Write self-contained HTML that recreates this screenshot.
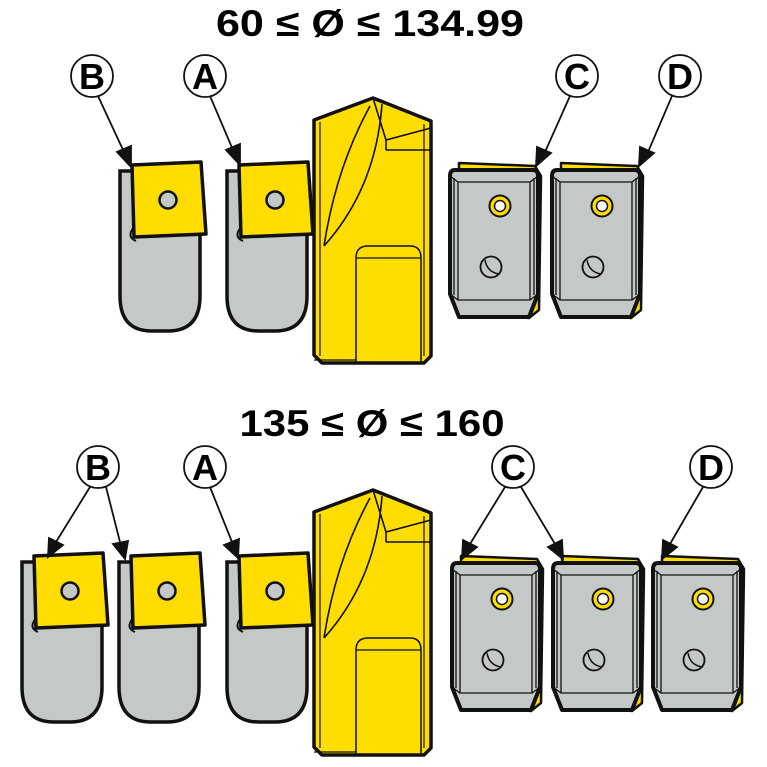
<!DOCTYPE html>
<html><head><meta charset="utf-8"><style>
html,body{margin:0;padding:0;background:#fff;width:767px;height:767px;overflow:hidden}
svg{display:block}
text{font-family:"Liberation Sans",sans-serif;font-weight:bold}
</style></head><body>
<svg width="767" height="767" viewBox="0 0 767 767" xmlns="http://www.w3.org/2000/svg">
<defs>
<g id="holder">
  <path d="M0,0 L80,0 L80,125 Q80,160 48,160 L32,160 Q0,160 0,125 Z" fill="#c4c8c7" stroke="#111" stroke-width="3.5"/>
  <path d="M14,56 Q6,66 16,70" fill="none" stroke="#111" stroke-width="2"/>
  <polygon points="12,-6 81,-9 86,63 14,66" fill="#ffdd00" stroke="#111" stroke-width="3.5" stroke-linejoin="round"/>
  <circle cx="48" cy="29" r="8.5" fill="#c4c8c7" stroke="#111" stroke-width="2.5"/>
</g>
<g id="drill">
  <path d="M0,22 L59,0 L117,23 L117,258 L110,265 L8,265 L0,257 Z" fill="#ffdd00" stroke="#111" stroke-width="3.5" stroke-linejoin="round"/>
  <path d="M6,24 L6,258 M110,26 L110,258" stroke="#111" stroke-width="1.2" fill="none"/>
  <path d="M56,8 Q22,70 10,148 M68,6 Q62,90 10,148" stroke="#111" stroke-width="1.6" fill="none"/>
  <path d="M59,0 L72,42 L117,30 M72,42 L72,52" stroke="#111" stroke-width="1.6" fill="none"/>
  <path d="M72,52 L117,52" stroke="#111" stroke-width="1.5" fill="none"/>
  <path d="M42,265 L42,160 Q42,148 54,148 L96,148 Q107,148 107,160 L107,265" fill="none" stroke="#111" stroke-width="1.5"/>
  <path d="M42,160 L107,160" stroke="#111" stroke-width="1.2"/>
  <path d="M0,262 L42,262" stroke="#111" stroke-width="1.2"/>
</g>
<g id="cins">
  <polygon points="10,-7 86,-4 92,6 90,140 80,148 10,140" fill="#ffdd00" stroke="#111" stroke-width="2.5" stroke-linejoin="round"/>
  <path d="M6,0 L84,0 Q89,0 89,6 L89,124 L80,147 L10,147 L1,124 L1,6 Q1,0 6,0 Z" fill="#c4c8c7" stroke="#111" stroke-width="4" stroke-linejoin="round"/>
  <path d="M9,12 L81,12 L81,130 L9,130 Z M1,6 L9,12 M89,6 L81,12 M9,130 L1,124 M81,130 L89,124 M5,8 L5,125 M85,8 L85,125" stroke="#111" stroke-width="1.3" fill="none"/>
  <circle cx="51" cy="36" r="10.5" fill="#ffdd00" stroke="#111" stroke-width="2"/>
  <circle cx="51" cy="36" r="5.5" fill="#fff" stroke="#111" stroke-width="1.5"/>
  <circle cx="42" cy="97" r="10.5" fill="none" stroke="#111" stroke-width="1.8"/>
  <path d="M36,90 Q38,102 50,104" fill="none" stroke="#111" stroke-width="1.5"/>
</g>
<g id="lbl"><circle r="21" fill="#fff" stroke="#111" stroke-width="1.8"/></g>
</defs>

<text x="370" y="36" font-size="37" text-anchor="middle" textLength="308" lengthAdjust="spacingAndGlyphs">60 ≤ Ø ≤ 134.99</text>
<text x="372" y="436" font-size="37" text-anchor="middle" textLength="265" lengthAdjust="spacingAndGlyphs">135 ≤ Ø ≤ 160</text>

<use href="#holder" x="120" y="171"/>
<use href="#holder" x="227" y="171"/>
<use href="#drill" x="314" y="98"/>
<use href="#cins" x="449" y="170"/>
<use href="#cins" x="551" y="170"/>

<use href="#holder" x="22" y="562"/>
<use href="#holder" x="119" y="562"/>
<use href="#holder" x="227" y="562"/>
<use href="#drill" x="314" y="490"/>
<use href="#cins" x="451" y="563"/>
<use href="#cins" x="552" y="563"/>
<use href="#cins" x="652" y="563"/>

<g stroke="#111" stroke-width="1.8" fill="#111">
  <line x1="98" y1="96" x2="124" y2="152"/><polygon points="131,167 117,152 131,146"/>
  <line x1="210" y1="96" x2="233" y2="150"/><polygon points="240,165 226,150 240,144"/>
  <line x1="570" y1="96" x2="545" y2="152"/><polygon points="536,166 537,147 551,153"/>
  <line x1="672" y1="96" x2="648" y2="152"/><polygon points="639,166 640,147 654,153"/>

  <line x1="90" y1="487" x2="56" y2="542"/><polygon points="48,557 49,538 63,545"/>
  <line x1="106" y1="487" x2="120" y2="542"/><polygon points="125,559 113,544 128,541"/>
  <line x1="210" y1="487" x2="232" y2="542"/><polygon points="238,558 224,545 239,539"/>
  <line x1="505" y1="487" x2="470" y2="544"/><polygon points="462,559 463,540 477,547"/>
  <line x1="521" y1="487" x2="555" y2="544"/><polygon points="563,559 548,547 562,540"/>
  <line x1="703" y1="487" x2="670" y2="544"/><polygon points="662,559 663,540 677,547"/>
</g>

<use href="#lbl" x="92" y="76"/><text x="92" y="89" font-size="36" text-anchor="middle">B</text>
<use href="#lbl" x="205" y="76"/><text x="205" y="89" font-size="36" text-anchor="middle">A</text>
<use href="#lbl" x="577" y="76"/><text x="577" y="89" font-size="36" text-anchor="middle">C</text>
<use href="#lbl" x="680" y="76"/><text x="680" y="89" font-size="36" text-anchor="middle">D</text>

<use href="#lbl" x="98" y="467"/><text x="98" y="480" font-size="36" text-anchor="middle">B</text>
<use href="#lbl" x="205" y="467"/><text x="205" y="480" font-size="36" text-anchor="middle">A</text>
<use href="#lbl" x="513" y="467"/><text x="513" y="480" font-size="36" text-anchor="middle">C</text>
<use href="#lbl" x="711" y="467"/><text x="711" y="480" font-size="36" text-anchor="middle">D</text>
</svg>
</body></html>
